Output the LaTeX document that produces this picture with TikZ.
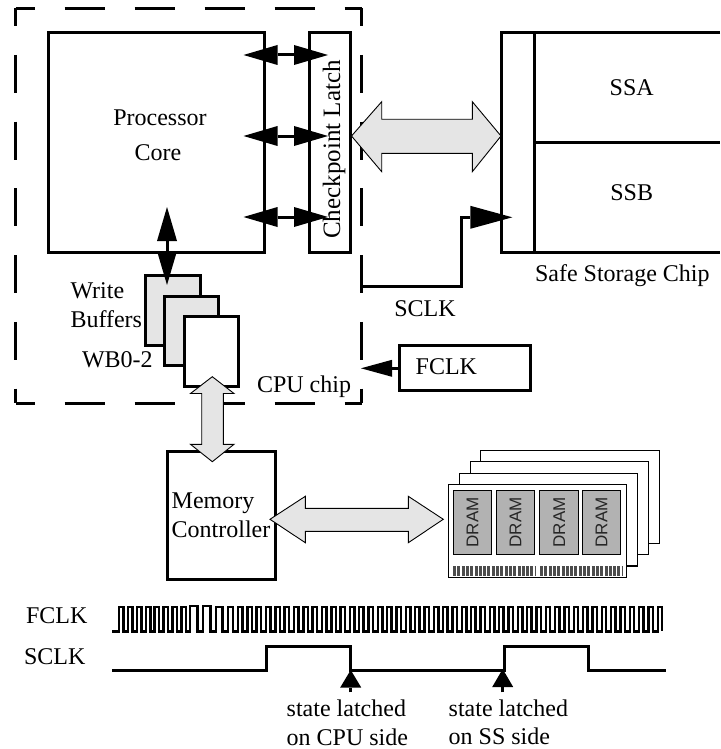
\documentclass[tikz,border=0pt]{standalone}
\usepackage{fontspec}
\setmainfont{Liberation Serif}
\newfontfamily\dramfont{Liberation Sans}
\usetikzlibrary{arrows.meta}
\newcommand{\boxnode}[6][]{\node[blockbox,#1,anchor=north west,minimum width={(#5-#3)*1pt},minimum height={(#6-#4)*1pt}] (#2) at (#3,#4) {};}
\tikzset{
  x=1pt,y=-1pt,
  blockbox/.style={draw=black,line width=3pt,fill=white,inner sep=0pt,outer sep=0pt},
  graybox/.style={fill=boxgray},
  thinbox/.style={line width=1.5pt},
  chipbox/.style={line width=1pt,fill=chipgray},
  lab/.style={font=\fontsize{24}{24}\selectfont,inner sep=0pt,outer sep=0pt,anchor=base west,text=black},
  labc/.style={lab,anchor=base},
  bus/.style={draw=black,line width=3pt},
  dbl/.style={bus,{Triangle[length=34pt,width=20pt,line width=0pt]}-{Triangle[length=34pt,width=20pt,line width=0pt]}},
  bigarrow/.style={draw=black,line width=0.9pt,fill=boxgray,miter limit=10},
  dashh/.style={draw=black,line width=3pt,dash pattern=on 40pt off 30pt,dash phase=21pt},
  dashv/.style={draw=black,line width=3pt,dash pattern=on 38pt off 28.7pt,dash phase=20pt},
  wave/.style={draw=black,line width=3pt,line join=miter},
  fwave/.style={draw=black,line width=2.4pt,line join=miter},
}
\definecolor{boxgray}{gray}{0.9}
\definecolor{chipgray}{gray}{0.7}
\begin{document}
\begin{tikzpicture}
\useasboundingbox (0,0) rectangle (720,749);
% CPU chip outline
\coordinate (ctl) at (15.7,8.3);
\coordinate (ctr) at (361.5,8.3);
\coordinate (cbl) at (15.7,403);
\coordinate (cbr) at (361.5,403);
\draw[dashh] (ctl) -- (ctr);
\draw[dashh] (cbl) -- (cbr);
\draw[dashv] (ctl) -- (cbl);
\draw[dashv] (ctr) -- (cbr);
% blocks
\boxnode{core}{48.5}{32.7}{264.5}{252}
\boxnode{latch}{309.7}{32.7}{350.7}{252}
\boxnode[graybox]{wba}{145}{275}{200}{345.7}
\boxnode[graybox]{wbb}{164}{296.7}{218.7}{365.7}
\boxnode{wbc}{184}{316.3}{238}{386.7}
\boxnode{mc}{167.3}{451.3}{275.7}{579.3}
\boxnode{fclk}{399.3}{345}{530}{390.7}
% safe storage chip, cut by the right edge
\coordinate (ssr1) at (720,32.7);
\coordinate (ssr2) at (720,252);
\coordinate (ssr3) at (720,142.3);
\draw[bus] (ssr1) -- (501.7,32.7) coordinate (sstl) -- (501.7,252) coordinate (ssbl) -- (ssr2);
\draw[bus] (534.3,32.7) coordinate (ssi1) -- (534.3,252) coordinate (ssi2);
\draw[bus] (534.3,142.3) coordinate (ssm) -- (ssr3);
% core to latch
\foreach \n/\yy in {a/55,b/136,c/217}{
  \coordinate (cl\n) at (243.5,\yy);
  \coordinate (cr\n) at (328,\yy);
  \draw[dbl] (cl\n) -- (cr\n);
}
% core to write buffers
\coordinate (wt) at (167,207);
\coordinate (wb) at (167,285);
\draw[dbl] (wt) -- (wb);
% gray buses
\draw[bigarrow] (351.5,136) -- (381.7,101.7) -- (381.7,119.3) -- (472.3,119.3) -- (472.3,101.7) -- (501,136) -- (472.3,171.7) -- (472.3,153.3) -- (381.7,153.3) -- (381.7,171.7) -- cycle;
\draw[bigarrow] (212.3,376.7) -- (234,393.5) -- (223.3,393.5) -- (223.3,444.3) -- (234,444.3) -- (212.3,461.7) -- (190.5,444.3) -- (201.7,444.3) -- (201.7,393.5) -- (190.5,393.5) -- cycle;
\draw[bigarrow] (270,519.3) -- (305.3,496.3) -- (305.3,508.3) -- (408.3,508.3) -- (408.3,496.3) -- (443.3,519.3) -- (408.3,542.7) -- (408.3,531.3) -- (305.3,531.3) -- (305.3,542.7) -- cycle;
% SCLK wire
\coordinate (sw) at (361.5,286.7);
\coordinate (st) at (512.3,217.3);
\draw[bus,-{Triangle[length=42pt,width=23pt,line width=0pt]}] (sw) -- (461,286.7) -- (461,217.3) -- (st);
% FCLK wire
\coordinate (ft) at (361,368.3);
\draw[bus,-{Triangle[length=31pt,width=17pt,line width=0pt]}] (fclk.west |- ft) -- (ft);
% memory modules
\boxnode[thinbox]{mod3}{480.3}{450.3}{659.7}{543.3}
\boxnode[thinbox]{mod2}{470.3}{461.3}{648.7}{554.3}
\boxnode[thinbox]{mod1}{459.3}{473.3}{637.7}{566}
\boxnode[thinbox]{mod0}{448.3}{484.3}{626.7}{577.3}
\foreach \n/\xa/\xb in {a/453.3/491.7,b/496.3/534.7,c/539.7/578.7,d/582.3/620.7}{
  \boxnode[chipbox]{chip\n}{\xa}{490.3}{\xb}{554.3}
  \node[font=\dramfont\fontsize{17}{17}\selectfont,rotate=90,inner sep=0pt,text=black!85] (dram\n) at (chip\n.center) {DRAM};
}
\draw[line width=10pt,draw=black!70,dash pattern=on 3pt off 1.3pt] (453,571.3) -- (535,571.3);
\draw[line width=10pt,draw=black!70,dash pattern=on 3pt off 1.3pt] (540,571.3) -- (622,571.3);
% labels
\node[labc] (tproc) at (160,125) {Processor};
\node[labc] (tcore) at (158,160) {Core};
\node[font=\fontsize{25}{25}\selectfont,inner sep=0pt,rotate=90,anchor=base] (tlatch) at (340,149.5) {Checkpoint Latch};
\node[lab] (twrite) at (70.5,298) {Write};
\node[lab] (tbuf) at (70.5,327) {Buffers};
\node[lab] (twb) at (82,367) {WB0-2};
\node[lab] (tcpu) at (257,392) {CPU chip};
\node[labc] (tssa) at (631.7,96) {SSA};
\node[labc] (tssb) at (631.7,200) {SSB};
\node[lab] (tsafe) at (535,281.7) {Safe Storage Chip};
\node[lab] (tsclk) at (394.3,316) {SCLK};
\node[lab] (tfclk) at (415.7,374) {FCLK};
\node[lab] (tmem) at (171.7,508) {Memory};
\node[lab] (tctl) at (171.7,537) {Controller};
\node[lab] (lfclk) at (26,623.3) {FCLK};
\node[lab] (lsclk) at (24,664.3) {SCLK};
\node[lab] (ts1) at (286.7,716.7) {state latched};
\node[lab] (ts2) at (286.7,745) {on CPU side};
\node[lab] (ts3) at (448.7,716.7) {state latched};
\node[lab] (ts4) at (448.7,744) {on SS side};
% FCLK waveform
\def\hi{606.7}\def\lo{631.3}
\draw[fwave] (112,\lo)
  foreach \i in {0,...,7}{ -- ({119+8.9*\i},\lo) -- ({119+8.9*\i},\hi) -- ({123.6+8.9*\i},\hi) -- ({123.6+8.9*\i},\lo) }
  -- (190,\lo) -- (190,605.7) -- (197.5,605.7) -- (197.5,\lo) -- (203,\lo) -- (203,605.7) -- (210.5,605.7) -- (210.5,\lo) -- (216,\lo) -- (216,\hi) -- (222.5,\hi) -- (222.5,\lo) -- (228,\lo) -- (228,\hi) -- (233,\hi) -- (233,\lo)
  foreach \i in {0,...,45}{ -- ({238+9.33*\i},\lo) -- ({238+9.33*\i},\hi) -- ({242.4+9.33*\i},\hi) -- ({242.4+9.33*\i},\lo) };
% SCLK waveform
\draw[wave] (112,670.3) -- (266,670.3) -- (266,646.7) -- (350.7,646.7) -- (350.7,670.3) -- (504,670.3) -- (504,646.7) -- (588.3,646.7) -- (588.3,670.3) -- (666,670.3);
% latch markers
\coordinate (m1a) at (350.7,692.3);
\coordinate (m1b) at (350.7,670);
\coordinate (m2a) at (502.7,692.3);
\coordinate (m2b) at (502.7,669);
\draw[bus,-{Triangle[length=17.5pt,width=21pt,line width=0pt]}] (m1a) -- (m1b);
\draw[bus,-{Triangle[length=18pt,width=21pt,line width=0pt]}] (m2a) -- (m2b);
\end{tikzpicture}
\end{document}
